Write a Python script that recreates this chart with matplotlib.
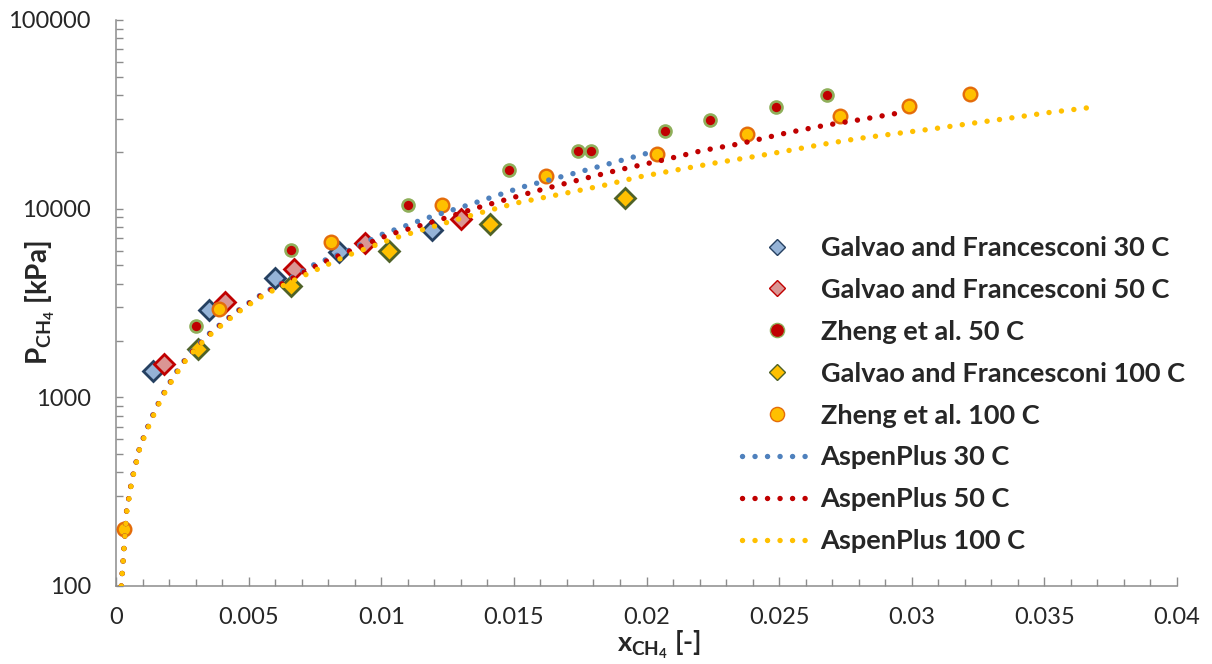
"""
Solubility of methane in water: P_CH4 vs x_CH4
Experimental points (Galvao & Francesconi, Zheng et al.) and AspenPlus curves.
"""
import matplotlib
matplotlib.use("Agg")
import matplotlib.pyplot as plt
from matplotlib.lines import Line2D
from matplotlib.ticker import LogLocator, FixedLocator, MultipleLocator, FuncFormatter, NullFormatter

# ─────────────────────────────────────────────
#  Data
# ─────────────────────────────────────────────
galvao30_x = [0.0014, 0.0035, 0.0060, 0.0084, 0.0119]
galvao30_p = [1380, 2900, 4300, 5860, 7730]

galvao50_x = [0.0018, 0.0041, 0.0067, 0.0094, 0.0130]
galvao50_p = [1500, 3220, 4800, 6580, 8800]

zheng50_x = [0.0030, 0.0066, 0.0110, 0.0148, 0.0174, 0.0179, 0.0207, 0.0224, 0.0249, 0.0268]
zheng50_p = [2400, 6050, 10500, 16000, 20100, 20200, 25700, 29400, 34500, 39800]

galvao100_x = [0.0031, 0.0066, 0.0103, 0.0141, 0.0192]
galvao100_p = [1800, 3870, 5930, 8250, 11400]

zheng100_x = [0.0003, 0.0039, 0.0081, 0.0123, 0.0162, 0.0204, 0.0238, 0.0273, 0.0299, 0.0322]
zheng100_p = [200, 2930, 6650, 10400, 14850, 19600, 24900, 30900, 34900, 40300]

aspen30_x = [0.0002, 0.0004, 0.0006, 0.0009, 0.0013, 0.0017, 0.0022, 0.0027, 0.0034,
             0.0041, 0.0048, 0.0056, 0.0064, 0.0075, 0.0087, 0.0100, 0.0117, 0.0135,
             0.0153, 0.0175, 0.0201]
aspen30_p = [100, 250, 370, 550, 760, 1000, 1320, 1660, 2110,
             2550, 3030, 3600, 4150, 5080, 5950, 7280, 8900, 10700,
             13000, 15700, 19800]

aspen50_x = [0.0002, 0.0004, 0.0006, 0.0009, 0.0013, 0.0017, 0.0022, 0.0027, 0.0034,
             0.0041, 0.0048, 0.0056, 0.0064, 0.0077, 0.0090, 0.0103, 0.0121, 0.0135,
             0.0158, 0.0176, 0.0190, 0.0207, 0.0221, 0.0235, 0.0253, 0.0267, 0.0281,
             0.0296]
aspen50_p = [100, 250, 365, 545, 750, 990, 1300, 1640, 2080,
             2520, 3000, 3560, 4100, 5100, 6130, 7280, 8630, 10000,
             12360, 14380, 16100, 18200, 20320, 22060, 25240, 27600, 29700,
             32300]

aspen100_x = [0.0002, 0.0004, 0.0006, 0.0009, 0.0013, 0.0017, 0.0022, 0.0027, 0.0034,
              0.0041, 0.0048, 0.0056, 0.0062, 0.0070, 0.0087, 0.0105, 0.0124, 0.0137,
              0.0151, 0.0170, 0.0184, 0.0197, 0.0212, 0.0226, 0.0240, 0.0252, 0.0266,
              0.0280, 0.0294, 0.0308, 0.0322, 0.0337, 0.0351, 0.0366]
aspen100_p = [100, 245, 360, 540, 740, 980, 1290, 1620, 2060,
              2490, 2960, 3500, 3850, 4365, 5630, 6980, 8390, 9480,
              10720, 12120, 13300, 14720, 16100, 17480, 18820, 20140, 21880,
              23560, 25000, 26490, 28260, 30200, 32230, 34200]

x_ticks = [0, 0.005, 0.01, 0.015, 0.02, 0.025, 0.03, 0.035, 0.04]

# ─────────────────────────────────────────────
#  Style
# ─────────────────────────────────────────────
plt.rcParams["font.family"] = ["Lato", "DejaVu Sans"]
plt.rcParams["mathtext.fontset"] = "custom"
plt.rcParams["mathtext.rm"] = "Lato"
plt.rcParams["mathtext.bf"] = "Lato:bold"

DOTS = (0, (0.01, 2.3))      # Excel "round dot"
DOT_LW = 3.9
AXIS_GREY = "#8C8C8C"
TEXT = "#262626"

series = [
    # label, x, y, marker, size, face, edge, edge width
    ("Galvao and Francesconi 30 C", galvao30_x, galvao30_p, "D", 10.0, "#95B3D7", "#254061", 2.0),
    ("Galvao and Francesconi 50 C", galvao50_x, galvao50_p, "D", 10.0, "#DA9694", "#C00000", 2.0),
    ("Zheng et al. 50 C", zheng50_x, zheng50_p, "o", 8.6, "#C00000", "#8FAF5A", 1.9),
    ("Galvao and Francesconi 100 C", galvao100_x, galvao100_p, "D", 10.0, "#FFC000", "#4F6228", 2.0),
    ("Zheng et al. 100 C", zheng100_x, zheng100_p, "o", 9.8, "#FFC000", "#E46C0A", 1.7),
]
curves = [
    ("AspenPlus 30 C", aspen30_x, aspen30_p, "#4F81BD"),
    ("AspenPlus 50 C", aspen50_x, aspen50_p, "#C00000"),
    ("AspenPlus 100 C", aspen100_x, aspen100_p, "#FFC000"),
]

fig = plt.figure(figsize=(12.12, 6.64), dpi=100)
ax = fig.add_axes([116 / 1212, 1 - 586 / 664, (1177 - 116) / 1212, (586 - 20) / 664])

# ── Experimental points ──
for label, xs, ys, mk, ms, fc, ec, mew in series:
    ax.plot(xs, ys, linestyle="none", marker=mk, markersize=ms,
            markerfacecolor=fc, markeredgecolor=ec, markeredgewidth=mew, zorder=3)

# ── AspenPlus curves ──
for label, xs, ys, col in curves:
    ax.plot(xs, ys, color=col, linewidth=DOT_LW, linestyle=DOTS,
            dash_capstyle="round", zorder=4)

# ── Axes ──
ax.set_yscale("log")
ax.set_xlim(0, 0.04)
ax.set_ylim(100, 100000)
ax.xaxis.set_major_locator(FixedLocator(x_ticks))
ax.xaxis.set_minor_locator(MultipleLocator(0.001))
ax.xaxis.set_major_formatter(FuncFormatter(lambda v, p: f"{v:g}"))
ax.yaxis.set_major_locator(LogLocator(base=10, numticks=10))
ax.yaxis.set_minor_locator(LogLocator(base=10, subs=range(2, 10), numticks=10))
ax.yaxis.set_major_formatter(FuncFormatter(lambda v, p: f"{v:.0f}"))
ax.yaxis.set_minor_formatter(NullFormatter())

for side in ("top", "right"):
    ax.spines[side].set_visible(False)
for side in ("left", "bottom"):
    ax.spines[side].set_color(AXIS_GREY)
    ax.spines[side].set_linewidth(1.1)

ax.tick_params(which="both", direction="in", color=AXIS_GREY, width=1.0,
               labelsize=17, labelcolor=TEXT)
ax.tick_params(axis="x", which="major", length=6.5, pad=15)
ax.tick_params(axis="x", which="minor", length=5)
ax.tick_params(axis="y", which="both", length=5, pad=18)

ax.set_xlabel(r"$\mathbf{x_{CH_4}}$ [-]", fontsize=19.5, fontweight="bold", color=TEXT)
ax.xaxis.set_label_coords(0.512, -0.075)
ax.set_ylabel(r"$\mathbf{P_{CH_4}}$ [kPa]", fontsize=20, fontweight="bold", color=TEXT)
ax.yaxis.set_label_coords(-0.056, 0.5)

# ── Legend ──
handles = []
for label, xs, ys, mk, ms, fc, ec, mew in series:
    size = 8.4 if mk == "D" else 10.2
    handles.append(Line2D([], [], linestyle="none", marker=mk, markersize=size,
                          markerfacecolor=fc, markeredgecolor=ec, markeredgewidth=1.0,
                          label=label))
for label, xs, ys, col in curves:
    handles.append(Line2D([], [], color=col, linewidth=DOT_LW, linestyle=DOTS,
                          dash_capstyle="round", label=label))

leg = ax.legend(handles=handles, loc="upper left", bbox_to_anchor=(742 / 1212, 1 - 236 / 664),
                bbox_transform=fig.transFigure, frameon=False, fontsize=19.5,
                handlelength=2.6, handletextpad=0.3, labelspacing=0.66,
                borderpad=0, borderaxespad=0)
for t in leg.get_texts():
    t.set_fontweight("bold")
    t.set_color(TEXT)

fig.savefig("out.png", dpi=100)
